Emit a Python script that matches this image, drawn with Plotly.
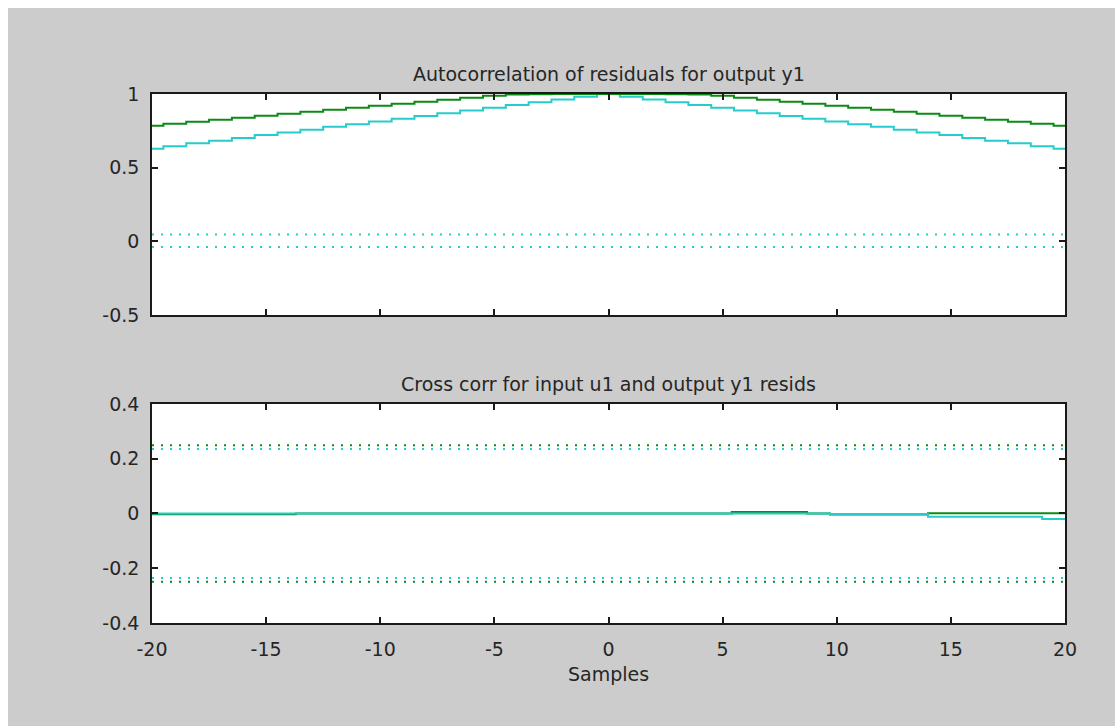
import plotly.graph_objects as go

# ---------------- data ----------------
lags = list(range(-20, 21))
# autocorrelation (top) - half values for lags 0..20, mirrored
green_half = [1.0, 1.0, 1.0, 0.999, 0.996, 0.988, 0.974, 0.961, 0.947, 0.934, 0.920,
              0.907, 0.893, 0.880, 0.866, 0.852, 0.839, 0.825, 0.812, 0.798, 0.785]
cyan_half = [1.0, 0.981, 0.963, 0.944, 0.925, 0.907, 0.888, 0.870, 0.851, 0.832, 0.814,
             0.795, 0.777, 0.758, 0.739, 0.721, 0.702, 0.683, 0.665, 0.646, 0.628]
green_acf = green_half[::-1] + green_half[1:]
cyan_acf = cyan_half[::-1] + cyan_half[1:]
acf_conf_hi = 0.047
acf_conf_lo = -0.038

# cross correlation (bottom) - step breakpoints
green_cc_x = [-20, -13.7, 5.4, 8.7, 9.7, 14.0, 20]
green_cc_y = [-0.003, 0.0, 0.005, 0.0, -0.004, 0.001, 0.001]
cyan_cc_x = [-20, 9.7, 14.0, 19.0, 20]
cyan_cc_y = [0.0, -0.002, -0.012, -0.020, -0.020]
green_cc_conf = 0.249
cyan_cc_conf = 0.236

x_ticks = [-20, -15, -10, -5, 0, 5, 10, 15, 20]
x_ticktext = ["-20", "-15", "-10", "-5", "0", "5", "10", "15", "20"]
y1_ticks = [-0.5, 0, 0.5, 1]
y1_ticktext = ["-0.5", "0", "0.5", "1"]
y2_ticks = [-0.4, -0.2, 0, 0.2, 0.4]
y2_ticktext = ["-0.4", "-0.2", "0", "0.2", "0.4"]

title_top = "Autocorrelation of residuals for output y1"
title_bot = "Cross corr for input u1 and output y1 resids"
x_label = "Samples"

GREEN = "#0c8a16"
CYAN = "#26cccc"
DOT = "2px,7px"
FONT = "DejaVu Sans"
FS = 19
TXT = "#262626"

fig = go.Figure()

# ---- top subplot ----
fig.add_trace(go.Scatter(x=[-20, 20], y=[acf_conf_hi, acf_conf_hi], mode="lines",
                         line=dict(color=CYAN, width=2, dash=DOT), xaxis="x", yaxis="y"))
fig.add_trace(go.Scatter(x=[-20, 20], y=[acf_conf_lo, acf_conf_lo], mode="lines",
                         line=dict(color=CYAN, width=2, dash=DOT), xaxis="x", yaxis="y"))
fig.add_trace(go.Scatter(x=lags, y=cyan_acf, mode="lines", line_shape="hvh",
                         line=dict(color=CYAN, width=2), xaxis="x", yaxis="y"))
fig.add_trace(go.Scatter(x=lags, y=green_acf, mode="lines", line_shape="hvh",
                         line=dict(color=GREEN, width=2), xaxis="x", yaxis="y"))

# ---- bottom subplot ----
for lvl, col in [(green_cc_conf, GREEN), (-green_cc_conf, GREEN),
                 (cyan_cc_conf, CYAN), (-cyan_cc_conf, CYAN)]:
    fig.add_trace(go.Scatter(x=[-20, 20], y=[lvl, lvl], mode="lines",
                             line=dict(color=col, width=2, dash=DOT), xaxis="x2", yaxis="y2"))
fig.add_trace(go.Scatter(x=green_cc_x, y=green_cc_y, mode="lines", line_shape="hv",
                         line=dict(color=GREEN, width=2), xaxis="x2", yaxis="y2"))
fig.add_trace(go.Scatter(x=cyan_cc_x, y=cyan_cc_y, mode="lines", line_shape="hv",
                         line=dict(color=CYAN, width=2), xaxis="x2", yaxis="y2"))

axis_common = dict(showline=True, linecolor="#1a1a1a", linewidth=1.5, mirror="ticks",
                   ticks="inside", ticklen=6, tickwidth=1.5, tickcolor="#1a1a1a",
                   showgrid=False, zeroline=False,
                   tickfont=dict(family=FONT, size=FS, color=TXT))

fig.update_layout(
    width=1115, height=726,
    margin=dict(l=152, r=50, t=94, b=103),
    paper_bgcolor="#cccccc", plot_bgcolor="white",
    showlegend=False,
    font=dict(family=FONT, size=FS, color=TXT),
    xaxis=dict(domain=[0, 1], range=[-20, 20], anchor="y", tickvals=x_ticks,
               showticklabels=False, **axis_common),
    yaxis=dict(domain=[0.5822, 1], range=[-0.5, 1], anchor="x", tickvals=y1_ticks,
               ticktext=y1_ticktext, ticklabelstandoff=7, **axis_common),
    xaxis2=dict(domain=[0, 1], range=[-20, 20], anchor="y2", tickvals=x_ticks,
                ticktext=x_ticktext, ticklabelstandoff=8,
                title=dict(text=x_label, standoff=9,
                           font=dict(family=FONT, size=FS, color=TXT)),
                **axis_common),
    yaxis2=dict(domain=[0, 0.414], range=[-0.4, 0.4], anchor="x2", tickvals=y2_ticks,
                ticktext=y2_ticktext, ticklabelstandoff=7, **axis_common),
    annotations=[
        dict(text=title_top, xref="paper", yref="paper", x=0.5, y=1.0378,
             xanchor="center", yanchor="middle", showarrow=False,
             font=dict(family=FONT, size=FS, color=TXT)),
        dict(text=title_bot, xref="paper", yref="paper", x=0.5, y=0.4518,
             xanchor="center", yanchor="middle", showarrow=False,
             font=dict(family=FONT, size=FS, color=TXT)),
    ],
    shapes=[
        dict(type="rect", xref="paper", yref="paper", x0=-0.1665, x1=1.06,
             y0=(623 - 8) / 529, y1=(623 + 2) / 529,
             fillcolor="white", line=dict(width=0), layer="above"),
        dict(type="rect", xref="paper", yref="paper", x0=-0.1665, x1=(8 - 152) / 913,
             y0=-0.2, y1=(623 + 2) / 529,
             fillcolor="white", line=dict(width=0), layer="above"),
    ],
)

fig.write_html("out.html")
